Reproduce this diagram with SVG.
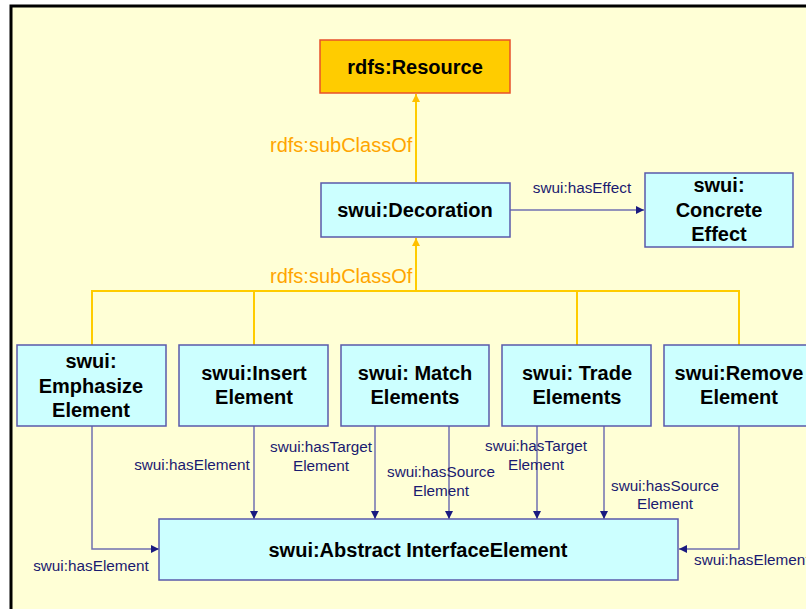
<svg xmlns="http://www.w3.org/2000/svg" width="806" height="609" viewBox="0 0 806 609">
<defs>
<marker id="ya" viewBox="0 0 8 10" refX="8" refY="5" markerWidth="8" markerHeight="10" markerUnits="userSpaceOnUse" orient="auto"><path d="M0,1 L8,5 L0,9 Z" fill="#FFC000"/></marker>
<marker id="na" viewBox="0 0 8 8" refX="8" refY="4" markerWidth="8" markerHeight="8" markerUnits="userSpaceOnUse" orient="auto"><path d="M0,0 L8,4 L0,8 Z" fill="#1A1A80"/></marker>
</defs>
<style>
.node rect{fill:#CCFFFF;stroke:#5A5AAA;stroke-width:1.5}
.node text{font-family:"Liberation Sans",Arial,sans-serif;font-weight:bold;font-size:20px;fill:#000;text-anchor:middle}
.y{stroke:#FFCC00;stroke-width:2;fill:none}
.n{stroke:#7070B0;stroke-width:1.5;fill:none}
.ol{font-family:"Liberation Sans",Arial,sans-serif;font-size:20px;fill:#FFA500}
.nl{font-family:"Liberation Sans",Arial,sans-serif;font-size:15.3px;fill:#1A1A70;text-anchor:middle}
</style>
<rect x="0" y="0" width="806" height="609" fill="#FFFFFF"/>
<rect x="11" y="6" width="820" height="640" fill="#FFFFD6" stroke="#000" stroke-width="3"/>
<g id="connectors">
<path class="y" d="M416,182 V94" marker-end="url(#ya)"/>
<path class="y" d="M416,291 V238" marker-end="url(#ya)"/>
<path class="y" d="M92,345 V291 H739 V345"/>
<path class="y" d="M254,291 V345 M577,291 V345"/>
<text class="ol" x="270" y="152">rdfs:subClassOf</text>
<text class="ol" x="270" y="283">rdfs:subClassOf</text>
<path class="n" d="M510,210 H644" marker-end="url(#na)"/>
<text class="nl" x="582" y="193">swui:hasEffect</text>
<path class="n" d="M92,426 V549 H159" marker-end="url(#na)"/>
<text class="nl" x="91" y="571">swui:hasElement</text>
<path class="n" d="M254,426 V519" marker-end="url(#na)"/>
<text class="nl" x="192" y="470">swui:hasElement</text>
<path class="n" d="M375,426 V519" marker-end="url(#na)"/>
<text class="nl" x="321" y="452">swui:hasTarget</text>
<text class="nl" x="321" y="471">Element</text>
<path class="n" d="M449,426 V519" marker-end="url(#na)"/>
<text class="nl" x="441" y="477">swui:hasSource</text>
<text class="nl" x="441" y="496">Element</text>
<path class="n" d="M537,426 V519" marker-end="url(#na)"/>
<text class="nl" x="536" y="451">swui:hasTarget</text>
<text class="nl" x="536" y="470">Element</text>
<path class="n" d="M604,426 V519" marker-end="url(#na)"/>
<text class="nl" x="665" y="491">swui:hasSource</text>
<text class="nl" x="665" y="509">Element</text>
<path class="n" d="M739,426 V549 H679" marker-end="url(#na)"/>
<text class="nl" x="694" y="565" style="text-anchor:start">swui:hasElement</text>
</g>
<g id="resource" class="node"><rect x="320" y="40" width="190" height="53" style="fill:#FFCC00;stroke:#E8502A"/><text x="415" y="74">rdfs:Resource</text></g>
<g id="decoration" class="node"><rect x="321" y="183" width="189" height="54"/><text x="415" y="217">swui:Decoration</text></g>
<g id="concrete" class="node"><rect x="645" y="173" width="148" height="74"/><text x="719" y="192">swui:</text><text x="719" y="217">Concrete</text><text x="719" y="241">Effect</text></g>
<g id="emphasize" class="node"><rect x="17" y="345" width="149" height="81"/><text x="91" y="368">swui:</text><text x="91" y="393">Emphasize</text><text x="91" y="417">Element</text></g>
<g id="insert" class="node"><rect x="179" y="345" width="149" height="81"/><text x="254" y="380">swui:Insert</text><text x="254" y="404">Element</text></g>
<g id="match" class="node"><rect x="341" y="345" width="148" height="81"/><text x="415" y="380">swui: Match</text><text x="415" y="404">Elements</text></g>
<g id="trade" class="node"><rect x="502" y="345" width="149" height="81"/><text x="577" y="380">swui: Trade</text><text x="577" y="404">Elements</text></g>
<g id="remove" class="node"><rect x="664" y="345" width="149" height="81"/><text x="739" y="380">swui:Remove</text><text x="739" y="404">Element</text></g>
<g id="abstract" class="node"><rect x="159" y="519" width="519" height="61"/><text x="418" y="557">swui:Abstract InterfaceElement</text></g>
</svg>
